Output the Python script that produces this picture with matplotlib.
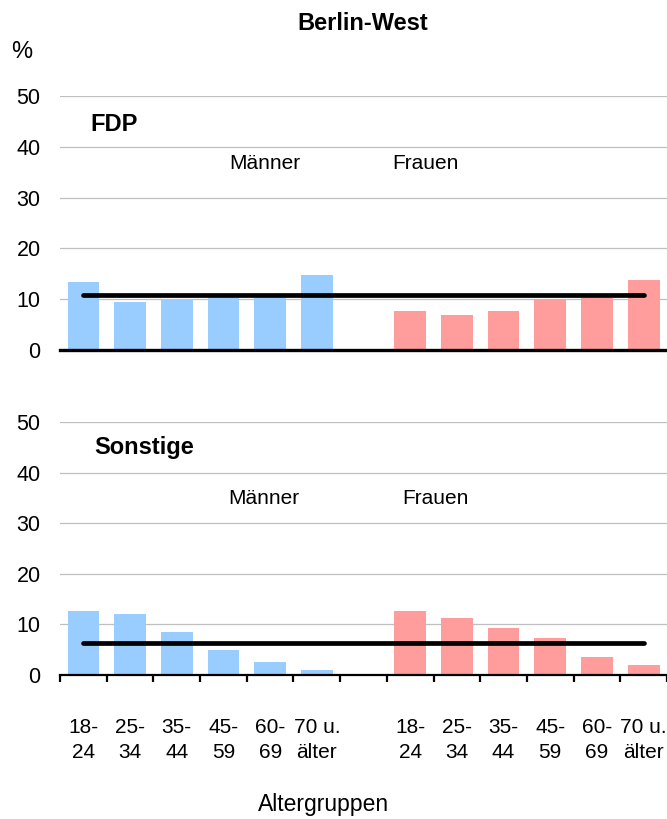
import numpy as np
import matplotlib.pyplot as plt

plt.rcParams['font.family'] = ['Liberation Sans', 'DejaVu Sans']

#%% Data
age_labels = ['18-\n24', '25-\n34', '35-\n44', '45-\n59', '60-\n69', '70 u.\nälter']

fdp_men = [13.3, 9.5, 10.0, 10.3, 10.3, 14.7]
fdp_women = [7.7, 6.9, 7.7, 10.0, 10.3, 13.8]
fdp_mean = 10.8

sonst_men = [12.7, 12.1, 8.5, 5.0, 2.6, 1.0]
sonst_women = [12.7, 11.2, 9.3, 7.3, 3.6, 1.9]
sonst_mean = 6.4

c_men = '#99CCFF'
c_women = '#FF9D9D'

#%% Figure
fig = plt.figure(figsize=(6.67, 8.19), dpi=100)

x_men = np.arange(6)
x_women = np.arange(7, 13)


def panel(rect, men, women, mean, party, lab_y, party_x, party_y, m_x, f_x, bottom):
    ax = fig.add_axes(rect)
    ax.bar(x_men, men, width=0.68, color=c_men, zorder=2)
    ax.bar(x_women, women, width=0.68, color=c_women, zorder=2)
    ax.plot([x_men[0], x_women[-1]], [mean, mean], color='black', lw=3.4,
            solid_capstyle='round', zorder=3)
    ax.set_xlim(-0.5, 12.5)
    ax.set_ylim(0, 50)
    ax.set_yticks([0, 10, 20, 30, 40, 50])
    for y in [10, 20, 30, 40, 50]:
        ax.axhline(y, color='#BFBFBF', lw=0.9, zorder=1)
    for s in ['top', 'right', 'left']:
        ax.spines[s].set_visible(False)
    ax.tick_params(axis='y', length=0, pad=14, labelsize=15.5)
    ax.text(party_x, party_y, party, fontsize=17, fontweight='bold', va='center', ha='left')
    ax.text(m_x, lab_y, 'Männer', fontsize=15, ha='center', va='center')
    ax.text(f_x, lab_y, 'Frauen', fontsize=15, ha='center', va='center')
    if bottom:
        ax.spines['bottom'].set_linewidth(1.6)
        ax.set_xticks(np.arange(-0.5, 13, 1))
        ax.set_xticklabels([])
        ax.tick_params(axis='x', length=5, width=1.6, direction='out')
        for i, lab in enumerate(age_labels):
            ax.text(x_men[i], -8.4, lab, fontsize=15, ha='center', va='top', linespacing=1.4)
            ax.text(x_women[i], -8.4, lab, fontsize=15, ha='center', va='top', linespacing=1.4)
    else:
        ax.spines['bottom'].set_linewidth(2.4)
        ax.set_xticks([])
    ax.spines['bottom'].set_zorder(4)
    return ax


panel([0.090, 0.5727, 0.910, 0.3101], fdp_men, fdp_women, fdp_mean, 'FDP',
      36.8, 0.14, 44.3, 3.89, 7.32, False)
panel([0.090, 0.1758, 0.910, 0.3089], sonst_men, sonst_women, sonst_mean, 'Sonstige',
      34.8, 0.23, 44.9, 3.87, 7.53, True)

fig.text(363/667, 1 - 23/819, 'Berlin-West', fontsize=17, fontweight='bold', ha='center', va='center')
fig.text(22/667, 1 - 52/819, '%', fontsize=17, ha='center', va='center')
fig.text(324/667, 1 - 804/819, 'Altergruppen', fontsize=16.5, ha='center', va='center')

plt.savefig('out.png', dpi=100)
